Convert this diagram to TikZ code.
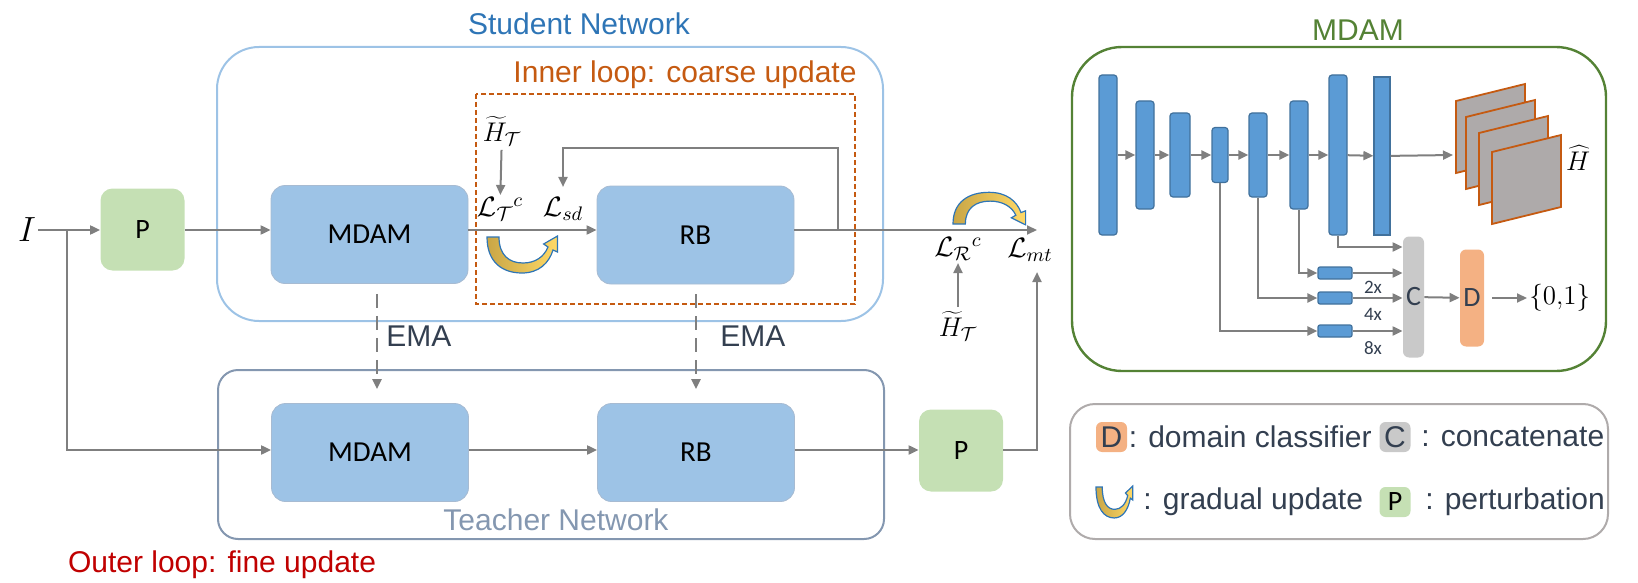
\documentclass[tikz,border=0pt]{standalone}
\usepackage{fix-cm}
\usepackage{fontspec}
\setmainfont{Liberation Sans}
\newfontfamily\calibri{Carlito}
\usetikzlibrary{arrows.meta,positioning}
\definecolor{stublue}{HTML}{2E75B6}
\definecolor{stuline}{HTML}{9DC3E6}
\definecolor{innerorange}{HTML}{C55A11}
\definecolor{blkfill}{HTML}{9DC3E6}
\definecolor{blkline}{HTML}{A7BBD2}
\definecolor{pfill}{HTML}{C5E0B4}
\definecolor{teachgray}{HTML}{8497B0}
\definecolor{arrgray}{HTML}{7F7F7F}
\definecolor{outerred}{HTML}{C00000}
\definecolor{mdamgreen}{HTML}{548235}
\definecolor{barfill}{HTML}{5B9BD5}
\definecolor{barline}{HTML}{41719C}
\definecolor{sheetfill}{HTML}{AEAAAA}
\definecolor{dfill}{HTML}{F4B183}
\definecolor{cfill}{HTML}{C9C9C9}
\definecolor{darktxt}{HTML}{333F50}
\definecolor{legline}{HTML}{AFABAB}
\definecolor{gradL}{HTML}{C9A646}
\definecolor{gradR}{HTML}{FFD966}
\tikzset{
  txt/.style={font=\fontsize{15}{18}\selectfont, inner sep=0pt},
  mth/.style={font=\fontsize{14}{17}\selectfont, inner sep=1pt},
  blk/.style={fill=blkfill, draw=blkline, line width=0.4pt, rounded corners=7pt,
    minimum width=98.5pt, minimum height=49pt, font=\calibri\fontsize{14.5}{17}\selectfont},
  pbox/.style={fill=pfill, rounded corners=6pt, minimum width=42pt, minimum height=41pt,
    font=\calibri\fontsize{14}{17}\selectfont},
  arr/.style={draw=arrgray, line width=1pt, -{Triangle[length=5pt,width=4.5pt]}},
  ema/.style={arr, line width=1.3pt, dash pattern=on 7pt off 4pt, shorten <=5pt, shorten >=7pt},
  bar/.style={fill=barfill, draw=barline, line width=0.6pt, rounded corners=1.5pt,
    inner sep=0pt, minimum width=9pt},
  sbar/.style={bar, minimum width=17pt, minimum height=6pt, rounded corners=1pt},
  sheet/.style={fill=sheetfill, draw=innerorange, line width=0.9pt},
  legbox/.style={minimum width=15.5pt, minimum height=15pt, rounded corners=3pt, inner sep=0pt,
    text=darktxt, font=\fontsize{15}{18}\selectfont},
  gradual/.pic={
    \path[draw=stublue, line width=0.6pt, left color=gradL, right color=gradR]
      (0,0) .. controls (0,25) and (15,36) .. (35,36) .. controls (52,36) and (62,26) .. (66,13)
      -- (70.5,15) -- (70.5,-1) -- (56.6,7) -- (61,10)
      .. controls (57,20) and (48,26) .. (36,26) .. controls (22,26) and (12,18) .. (12,0) -- cycle;
  }
}
\begin{document}
\begin{tikzpicture}[x=0.5pt,y=-0.5pt]
  \useasboundingbox (0,0) rectangle (1638,583);
  % containers
  \draw[stuline, line width=1pt, rounded corners=21pt] (217,47) rectangle (883,321);
  \draw[teachgray, line width=1pt, rounded corners=10pt] (218,370) rectangle (884,539);
  \draw[innerorange, line width=1pt, dash pattern=on 2.5pt off 1.5pt] (476,94) rectangle (855,304);
  \node[txt, text=stublue, anchor=base] (stuT) at (579,35) {Student Network};
  \node[txt, text=innerorange, anchor=base] (innT) at (685,83) {Inner loop: coarse update};
  \node[txt, text=teachgray] (teaT) at (556,520) {Teacher Network};
  \node[txt, text=outerred, anchor=base] (outT) at (222,572) {Outer loop: fine update};
  % student / teacher rows
  \coordinate (rowS) at (0,230);
  \coordinate (rowT) at (0,450);
  \node[mth, font=\fontsize{17.5}{20}\selectfont] (I) at (27,230) {$I$};
  \node[pbox] (P1) at (142.5,229.5) {P};
  \node[blk] (sMDAM) at (369.5,234.5) {MDAM};
  \node[blk] (sRB) at (695.5,235) {RB};
  \node[blk] (tMDAM) at (370,452.5) {MDAM};
  \node[blk] (tRB) at (696,452.5) {RB};
  \node[pbox] (P2) at (961,450.5) {P};
  \node[mth, font=\fontsize{13.5}{16}\selectfont, inner sep=0pt] (Ht1) at (502,131) {$\widetilde{H}_{\mathcal{T}}$};
  \node[mth] (LTc) at (500,209) {$\mathcal{L}_{\mathcal{T}}{}^{c}$};
  \node[mth] (Lsd) at (563,209) {$\mathcal{L}_{sd}$};
  \node[mth] (Lrc) at (958,249) {$\mathcal{L}_{\mathcal{R}}{}^{c}$};
  \node[mth] (Lmt) at (1030,250) {$\mathcal{L}_{mt}$};
  \node[mth, font=\fontsize{13.5}{16}\selectfont, inner sep=0pt] (Ht2) at (958,326) {$\widetilde{H}_{\mathcal{T}}$};
  \coordinate (split) at (67,230);
  \coordinate (fb) at (838,230);
  \coordinate (mtx) at (1037,0);
  \draw[arr] (I) -- (P1.west |- rowS);
  \draw[arr] (P1.east |- rowS) -- (sMDAM.west |- rowS);
  \draw[arr] (sMDAM.east |- rowS) -- (sRB.west |- rowS);
  \draw[arr] (sRB.east |- rowS) -- (mtx |- rowS);
  \draw[arr] (fb) |- (Lsd.north |- 0,148) -- ([yshift=4pt]Lsd.north);
  \draw[arr, shorten <=2pt] (Ht1) -- (LTc);
  \draw[arr, shorten <=2pt] (Ht2) -- (Lrc);
  \draw[arr] (split) |- (tMDAM.west |- rowT);
  \draw[arr] (tMDAM.east |- rowT) -- (tRB.west |- rowT);
  \draw[arr] (tRB.east |- rowT) -- (P2.west |- rowT);
  \draw[arr] (P2.east |- rowT) -| ([yshift=-4pt]mtx |- Lmt.south);
  \draw[ema] (377,0 |- sMDAM.south) -- (377,0 |- tMDAM.north);
  \draw[ema] (696,0 |- sRB.south) -- (696,0 |- tRB.north);
  \node[txt, text=darktxt, anchor=west] (ema1) at (386,336) {EMA};
  \node[txt, text=darktxt, anchor=west] (ema2) at (720,336) {EMA};
  \path (487,237) pic{gradual};
  \path (953,224) pic[xscale=1.03, yscale=-0.88]{gradual};
  % MDAM panel
  \draw[mdamgreen, line width=1.2pt, rounded corners=25pt] (1072,47) rectangle (1606,371);
  \node[txt, text=mdamgreen, anchor=base] (mdT) at (1358,41) {MDAM};
  \foreach \n/\x/\w/\h in {1/1108/9/80, 2/1145/9/54, 3/1180/10/42, 4/1220/8/27.5,
      5/1258/9/42, 6/1299/9/54, 7/1338/9/80}
    \node[bar, minimum width=\w pt, minimum height=\h pt] (b\n) at (\x,155) {};
  \node[bar, sharp corners, minimum width=8pt, minimum height=79pt] (b8) at (1382,156) {};
  \foreach \a/\b in {1/2, 2/3, 3/4, 4/5, 5/6, 6/7, 7/8}
    \draw[arr] (b\a) -- (b\b);
  \coordinate (stk) at (1453,155);
  \draw[arr] (b8) -- (stk);
  \foreach \l/\t in {1456/101, 1466/117, 1479/133, 1492/152}
    \draw[sheet] (\l,\t) -- ++(69,-17) -- ++(0,72) -- ++(-69,17) -- cycle;
  \node[mth, font=\fontsize{13.5}{16}\selectfont, inner sep=0pt] (Hh) at (1578,158) {$\widehat{H}$};
  \node[fill=cfill, rounded corners=3pt, inner sep=0pt, minimum width=10.5pt, minimum height=60.5pt,
    text=darktxt, font=\calibri\fontsize{14}{17}\selectfont] (C) at (1413.5,297) {C};
  \node[fill=dfill, rounded corners=3pt, inner sep=0pt, minimum width=12pt, minimum height=48.5pt,
    text=darktxt, font=\calibri\fontsize{14}{17}\selectfont] (D) at (1472,298) {D};
  \node[mth, anchor=west, font=\fontsize{13.5}{16}\selectfont] (cls) at (1527,298) {$\{0{,}1\}$};
  \node[sbar] (s2) at (1335,273) {};
  \node[sbar] (s4) at (1335,298) {};
  \node[sbar] (s8) at (1335,331) {};
  \draw[arr] (b7.south) |- (C.west |- 0,247);
  \draw[arr] (b6.south) |- (s2.west);
  \draw[arr] (b5.south) |- (s4.west);
  \draw[arr] (b4.south) |- (s8.west);
  \draw[arr] (s2) -- (C.west |- s2);
  \draw[arr] (s4) -- (C.west |- s4);
  \draw[arr] (s8) -- (C.west |- s8);
  \node[text=darktxt, font=\calibri\fontsize{9.5}{11}\selectfont, inner sep=0pt] (x2) at (1373,287) {2x};
  \node[text=darktxt, font=\calibri\fontsize{9.5}{11}\selectfont, inner sep=0pt] (x4) at (1373,314) {4x};
  \node[text=darktxt, font=\calibri\fontsize{9.5}{11}\selectfont, inner sep=0pt] (x8) at (1373,348) {8x};
  \draw[arr] (C) -- (D);
  \draw[arr, shorten <=4pt] (D) -- (cls);
  % legend
  \draw[legline, line width=1pt, rounded corners=12.5pt] (1070,404) rectangle (1608,539);
  \node[legbox, fill=dfill] (lD) at (1111.5,437) {D};
  \node[txt, text=darktxt, right=0.5pt of lD] (tD) {: domain classifier};
  \node[legbox, fill=cfill] (lC) at (1395,437) {C};
  \node[txt, text=darktxt, right=5pt of lC] (tC) {: concatenate};
  \path (1096,487) pic[xscale=0.52, yscale=0.86]{gradual};
  \node[txt, text=darktxt, anchor=west] (tG) at (1143,502) {: gradual update};
  \node[legbox, fill=pfill, text=black, font=\calibri\fontsize{14}{17}\selectfont] (lP) at (1395,502) {P};
  \node[txt, text=darktxt, right=7pt of lP] (tP) {: perturbation};
\end{tikzpicture}
\end{document}
